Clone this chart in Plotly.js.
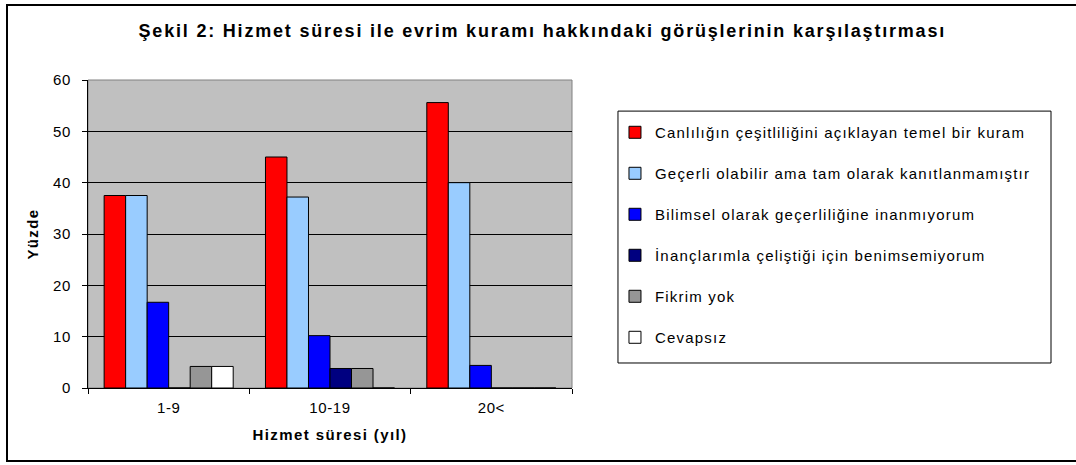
<!DOCTYPE html>
<html>
<head>
<meta charset="utf-8">
<script src="https://cdn.plot.ly/plotly-3.0.1.min.js"></script>
<style>
html,body{margin:0;padding:0;background:#fff;}
#chart{width:1076px;height:465px;}
.gtitle{letter-spacing:1.8px;}
.legendtext{letter-spacing:1.2px;}
.xtick text, .ytick text{letter-spacing:0.6px;}
.xtitle, .ytitle{letter-spacing:1.4px;}
</style>
</head>
<body>
<div id="chart"></div>
<script>
const categories = ["1-9", "10-19", "20<"];
const seriesNames = [
  "Canlılığın çeşitliliğini açıklayan temel bir kuram",
  "Geçerli olabilir ama tam olarak kanıtlanmamıştır",
  "Bilimsel olarak geçerliliğine inanmıyorum",
  "İnançlarımla çeliştiği için benimsemiyorum",
  "Fikrim yok",
  "Cevapsız"
];
const temelKuram = [37.5, 45.0, 55.6];
const gecerliOlabilir = [37.5, 37.2, 40.0];
const inanmiyorum = [16.7, 10.2, 4.4];
const celisiyor = [0, 3.8, 0];
const fikrimYok = [4.2, 3.8, 0];
const cevapsiz = [4.2, 0, 0];
const seriesValues = [temelKuram, gecerliOlabilir, inanmiyorum, celisiyor, fikrimYok, cevapsiz];
const seriesColors = ["#FF0000", "#99CCFF", "#0000FF", "#000080", "#969696", "#FFFFFF"];

const FONT = "Arial, 'Liberation Sans', sans-serif";

const traces = seriesValues.map((vals, i) => ({
  type: "bar",
  name: seriesNames[i],
  x: categories,
  y: vals,
  legendgroup: "g" + i,
  marker: {color: seriesColors[i], line: {color: "#000000", width: 1}},
  hoverinfo: "x+y+name"
}));

const layout = {
  width: 1076,
  height: 465,
  margin: {l: 88, r: 504, t: 80, b: 77, pad: 0},
  paper_bgcolor: "#FFFFFF",
  plot_bgcolor: "#C0C0C0",
  barmode: "group",
  bargap: 0.2,
  bargroupgap: 0,
  font: {family: FONT, color: "#000000", size: 15},
  title: {
    text: "Şekil 2: Hizmet süresi ile evrim kuramı hakkındaki görüşlerinin karşılaştırması",
    font: {family: FONT, size: 18, color: "#000000", weight: "bold"},
    x: 0.504, xref: "container", xanchor: "center",
    y: 0.933, yref: "container", yanchor: "middle"
  },
  xaxis: {
    type: "category",
    tickson: "boundaries",
    ticks: "outside",
    ticklen: 5,
    tickcolor: "#000000",
    showline: true,
    linecolor: "#000000",
    linewidth: 1,
    showgrid: false,
    tickfont: {size: 15},
    ticklabelstandoff: 6,
    title: {text: "Hizmet süresi (yıl)", font: {size: 15, weight: "bold"}, standoff: 14}
  },
  yaxis: {
    range: [0, 60],
    dtick: 10,
    ticks: "outside",
    ticklen: 5,
    tickcolor: "#000000",
    showline: true,
    linecolor: "#000000",
    linewidth: 1,
    showgrid: true,
    gridcolor: "#000000",
    gridwidth: 1,
    zeroline: false,
    tickfont: {size: 15},
    ticklabelstandoff: 8,
    title: {text: "Yüzde", font: {size: 15, weight: "bold"}, standoff: 10}
  },
  legend: {
    x: 1.0888, xanchor: "left",
    y: 0.883, yanchor: "top",
    bgcolor: "rgba(0,0,0,0)",
    borderwidth: 0,
    traceorder: "grouped",
    tracegroupgap: 18.5,
    font: {size: 15, family: FONT},
    itemclick: false
  },
  shapes: [
    {type: "rect", xref: "paper", yref: "paper", x0: 0, x1: 1, y0: 0, y1: 1,
     line: {color: "#808080", width: 1}, layer: "below"},
    {type: "rect", xref: "paper", yref: "paper", x0: 1.095, x1: 1.9897, y0: 0.0812, y1: 0.899,
     line: {color: "#000000", width: 1}, fillcolor: "#FFFFFF", layer: "below"},
    {type: "rect", xref: "paper", yref: "paper",
     x0: (7 - 88) / 484, x1: (1090 - 88) / 484, y0: (388 - 461) / 308, y1: (388 - 5) / 308,
     line: {color: "#000000", width: 2}, layer: "below"}
  ]
};

Plotly.newPlot("chart", traces, layout, {displayModeBar: false, staticPlot: false});
</script>
</body>
</html>
